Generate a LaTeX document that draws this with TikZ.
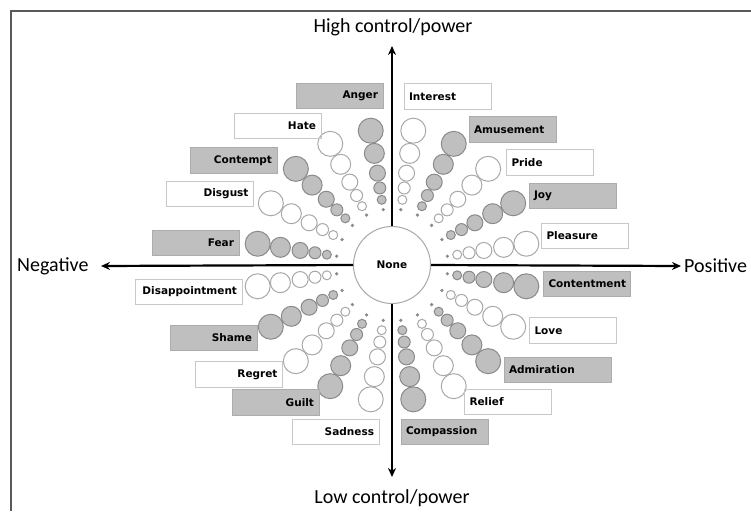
\documentclass[tikz,border=0pt]{standalone}
\usepackage{fontspec}
\setmainfont{DejaVu Sans}
\newfontfamily\axisfont{Carlito}
\usetikzlibrary{arrows.meta}
\definecolor{wheelgray}{HTML}{BFBFBF}
\definecolor{rimgray}{HTML}{8A8A8A}
\definecolor{palegray}{HTML}{A8A8A8}
\definecolor{boxline}{HTML}{C8C8C8}
\begin{document}
\begin{tikzpicture}[x=1pt,y=1pt]
    \tikzset{>={Stealth[length=9pt,width=8pt]}}
    \tikzset{
      emo/.style={draw=boxline, line width=1pt, minimum height=25.5pt,
        inner xsep=5pt, inner ysep=0pt, text width=77pt,
        font={\fontsize{10.5}{12}\selectfont\bfseries}},
      negbox/.style={emo, align=right},
      posbox/.style={emo, align=left},
      widebox/.style={text width=97pt},
      shaded/.style={fill=wheelgray, draw=wheelgray!90!black},
      axislabel/.style={font={\axisfont\fontsize{20}{24}\selectfont}},
      axis/.style={->, line width=2.2pt}
    }
    \useasboundingbox (0,0) rectangle (751,-511);
    % frame
    \draw[line width=1.5pt, black!65] (11,-511) -- (11,-11) -- (751,-11);

    % spokes of circles
    \begin{scope}[shift={(392,-265)}]
      \foreach \a in {9,45,...,333} {
        \fill[rimgray] (\a:56) circle (1.8);
        \foreach \d/\r in {66/4.5,78/6,93/8,113/10,136/12.5}
          \draw[palegray, line width=1pt, fill=white] (\a:\d) circle (\r);
      }
      \foreach \a in {27,63,...,351} {
        \fill[rimgray] (\a:56) circle (1.8);
        \foreach \d/\r in {66/4.5,78/6,93/8,113/10,136/12.5}
          \draw[rimgray, line width=1pt, fill=wheelgray] (\a:\d) circle (\r);
      }
    \end{scope}

    \node[circle, draw=palegray, line width=1pt, fill=white, minimum size=77pt,
      font={\fontsize{10.5}{12}\selectfont\bfseries}] (none) at (392,-265) {None};

    % axes
    \coordinate (hitip) at (392,-46);
    \coordinate (lotip) at (392,-477);
    \coordinate (negtip) at (101,-266);
    \coordinate (postip) at (681,-266);
    \draw[axis] (none) -- (hitip);
    \draw[axis] (none) -- (lotip);
    \draw[axis] (none.west) -- (negtip);
    \draw[axis] (none.east) -- (postip);
    \node[axislabel] (high) at (393,-27) {High control/power};
    \node[axislabel] (low) at (392,-498) {Low control/power};
    \node[axislabel, anchor=west, inner sep=0pt] (negative) at (17,-266) {Negative};
    \node[axislabel, anchor=west, inner sep=0pt] (positive) at (684,-266) {Positive};

    % left half
    \node[negbox, shaded] (anger) at (339.5,-96) {Anger};
    \node[negbox] (hate) at (277.5,-126) {Hate};
    \node[negbox, shaded] (contempt) at (233.5,-160.5) {Contempt};
    \node[negbox] (disgust) at (210,-194) {Disgust};
    \node[negbox, shaded] (fear) at (195.5,-243) {Fear};
    \node[negbox, widebox] (disappointment) at (188.5,-292) {Disappointment};
    \node[negbox, shaded] (shame) at (213.5,-338) {Shame};
    \node[negbox] (regret) at (239,-374.5) {Regret};
    \node[negbox, shaded] (guilt) at (275.5,-402.5) {Guilt};
    \node[negbox] (sadness) at (335.5,-432) {Sadness};

    % right half
    \node[posbox] (interest) at (447.5,-96.5) {Interest};
    \node[posbox, shaded] (amusement) at (512.5,-129.5) {Amusement};
    \node[posbox] (pride) at (550,-162.5) {Pride};
    \node[posbox, shaded] (joy) at (572.5,-196) {Joy};
    \node[posbox] (pleasure) at (585,-236) {Pleasure};
    \node[posbox, shaded] (contentment) at (587,-284) {Contentment};
    \node[posbox] (love) at (573,-330.5) {Love};
    \node[posbox, widebox, shaded] (admiration) at (557.5,-370) {Admiration};
    \node[posbox] (relief) at (508,-402) {Relief};
    \node[posbox, shaded] (compassion) at (444.5,-432) {Compassion};
\end{tikzpicture}
\end{document}
